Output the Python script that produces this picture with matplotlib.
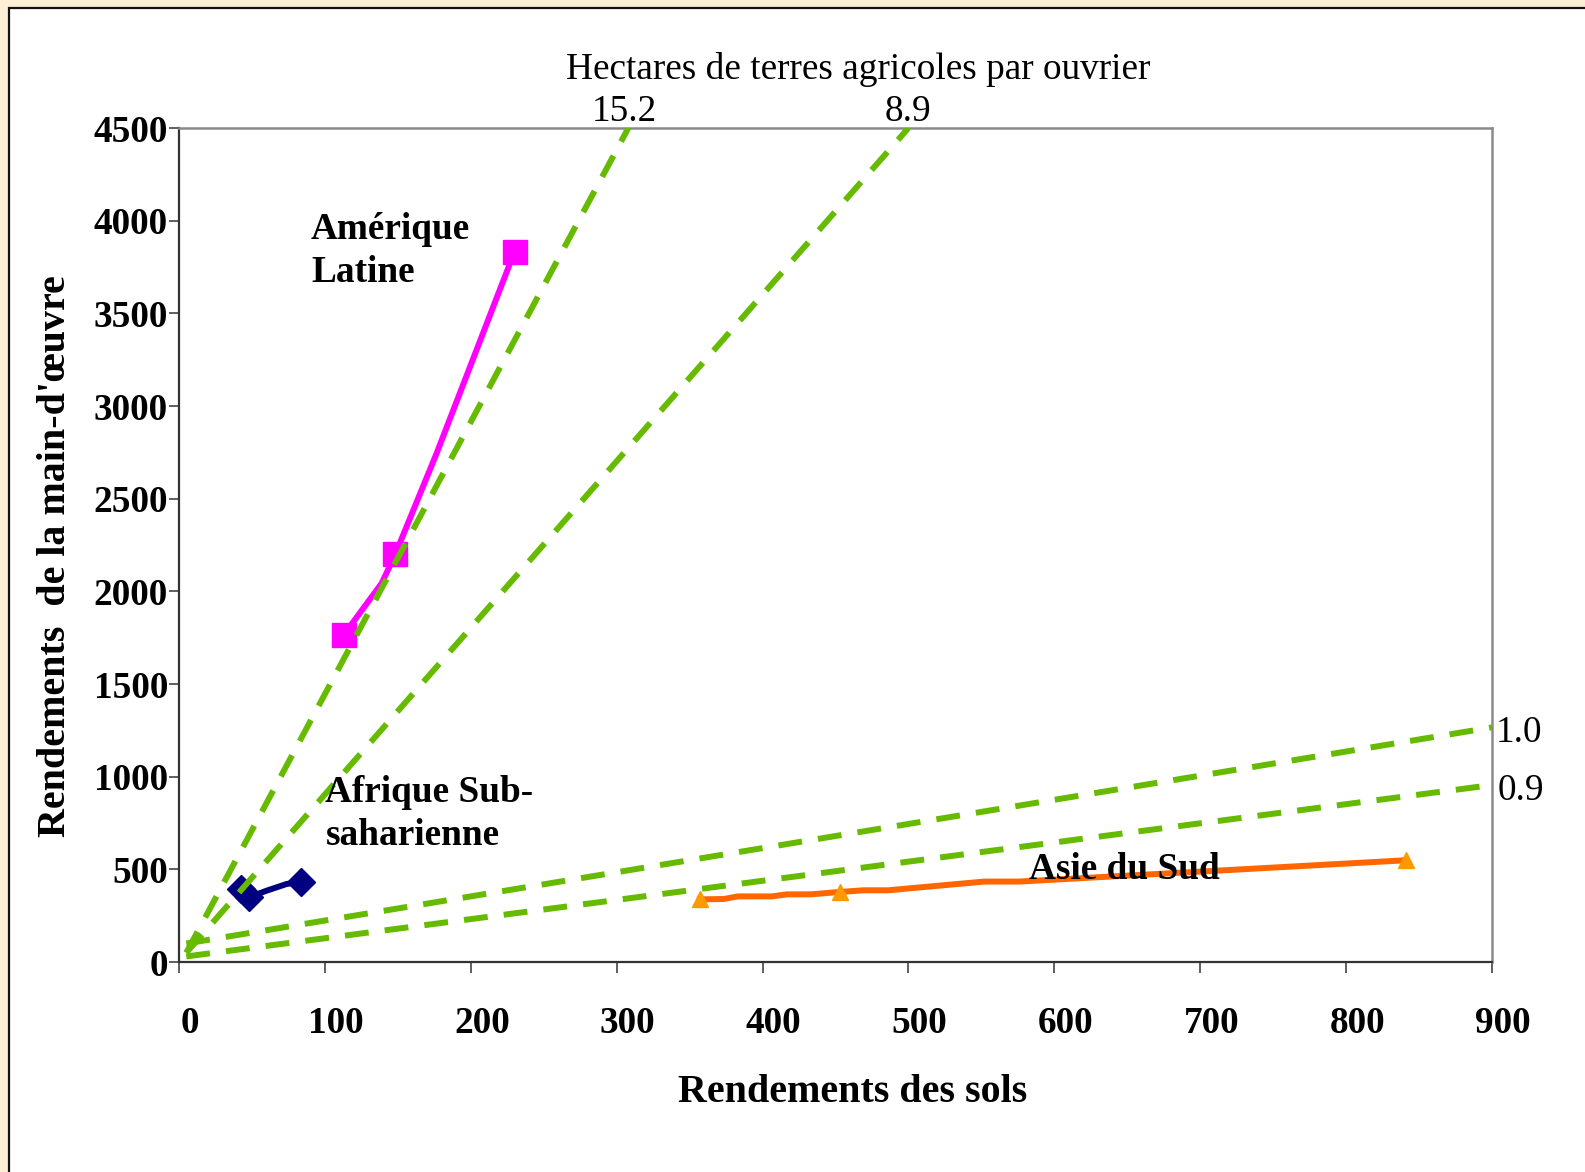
import matplotlib
matplotlib.use("Agg")
import matplotlib.pyplot as plt
from matplotlib.patches import Rectangle
from matplotlib.transforms import ScaledTranslation

# ---------------- data ----------------
la_x = [112.9, 138.9, 148.3, 176.6, 230.0]
la_y = [1765, 2043, 2201, 2745, 3833]
la_marks = [0, 2, 4]

af_x = [42.5, 48.0, 60.1, 73.8, 83.6]
af_y = [394, 349, 385, 421, 433]
af_marks = [0, 1, 4]

as_x = [357, 373.5, 383, 406.4, 416.7, 433, 453, 469.5, 486, 552, 576, 841]
as_y = [338, 340, 354, 354, 365, 365, 378, 387, 387, 434, 434, 549]
as_marks = [0, 6, 11]

ratio_labels = ["15.2", "8.9", "1.0", "0.9"]
ratio_x = [[5, 308], [5, 500], [5, 900], [5, 900]]
ratio_y = [[50, 4500], [50, 4500], [100, 1266], [30, 955]]

xticks = [0, 100, 200, 300, 400, 500, 600, 700, 800, 900]
yticks = [0, 500, 1000, 1500, 2000, 2500, 3000, 3500, 4000, 4500]

W, H = 1585, 1172
serif = ["Liberation Serif", "DejaVu Serif"]
plt.rcParams['font.family'] = serif

fig = plt.figure(figsize=(W / 100, H / 100), dpi=100)
fig.patch.set_facecolor("#FCEFD5")
fig.patches.append(Rectangle((9 / W, -0.1), 1.2, 1 - 8 / H + 0.1,
                             transform=fig.transFigure, facecolor="white",
                             edgecolor="#111111", linewidth=1.6, zorder=-10))

ax = fig.add_axes([179 / W, 1 - 962 / H, (1492 - 179) / W, (962 - 128) / H])
ax.set_facecolor("none")
ax.set_xlim(0, 900)
ax.set_ylim(0, 4500)
ax.set_xticks(xticks)
ax.set_yticks(yticks)
ax.set_xticklabels([str(v) for v in xticks], fontsize=26.8, fontweight="bold")
ax.set_yticklabels([str(v) for v in yticks], fontsize=26.8, fontweight="bold")
ax.tick_params(axis="y", direction="out", length=7, width=1.2, color="#444444", pad=1)
ax.tick_params(axis="x", direction="out", length=8, width=1.2, color="#444444", pad=24)
for lab in ax.get_xticklabels():
    lab.set_transform(lab.get_transform() + ScaledTranslation(11 / 100, 0, fig.dpi_scale_trans))

for side in ["left", "bottom"]:
    ax.spines[side].set_color("#333333")
    ax.spines[side].set_linewidth(1.6)
for side in ["top", "right"]:
    ax.spines[side].set_color("#8a8a8a")
    ax.spines[side].set_linewidth(1.8)

# series
ax.plot(la_x, la_y, color="#FF00FF", lw=4.3, marker="s", ms=17.5,
        markevery=la_marks, zorder=3)
ax.plot(af_x, af_y, color="#000080", lw=4.3, marker="D", ms=14.5,
        markevery=af_marks, zorder=3)
ax.plot(as_x, as_y, color="#FF6600", lw=4.3, zorder=3)
ax.plot([as_x[i] for i in as_marks], [as_y[i] for i in as_marks], ls="none",
        marker="^", ms=11, color="#FF9900", zorder=3)

# ratio lines
for xs, ys in zip(ratio_x, ratio_y):
    ax.plot(xs, ys, color="#66BB00", lw=4.3, dashes=(4.0, 2.7), zorder=4,
            solid_capstyle="butt", dash_capstyle="butt")

# annotations
lab_kw = dict(fontsize=26.8, fontweight="bold", color="black", zorder=6, va="baseline", ha="left")
ax.text(90.5, 3903, "Amérique", **lab_kw)
ax.text(90.5, 3669, "Latine", **lab_kw)
ax.text(100.4, 865, "Afrique Sub-", **lab_kw)
ax.text(100.4, 631, "saharienne", **lab_kw)
ax.text(582.6, 446, "Asie du Sud", **lab_kw)

def ftext(x, y, s, **kw):
    fig.text(x / W, 1 - y / H, s, **kw)

ftext(858, 78.8, "Hectares de terres agricoles par ouvrier", fontsize=26.8, ha="center", va="baseline")
ftext(624.7, 121.3, ratio_labels[0], fontsize=26.8, ha="center", va="baseline")
ftext(907.7, 121.3, ratio_labels[1], fontsize=26.8, ha="center", va="baseline")
ftext(1496, 742, ratio_labels[2], fontsize=26.8, ha="left", va="baseline")
ftext(1498, 799.6, ratio_labels[3], fontsize=26.8, ha="left", va="baseline")

ftext(853, 1101.8, "Rendements des sols", fontsize=28.8, fontweight="bold", ha="center", va="baseline")
ftext(55.6, 556, "Rendements  de la main-d'œuvre", fontsize=28.8, fontweight="bold",
      ha="center", va="center", rotation=90)

fig.savefig("out.png", dpi=100, facecolor=fig.get_facecolor())
